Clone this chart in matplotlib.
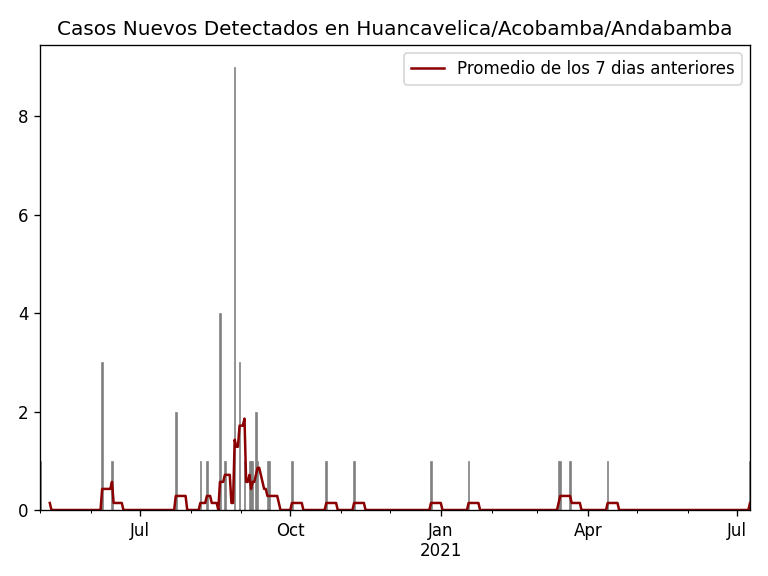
import pandas as pd
import matplotlib
matplotlib.use('Agg')
import matplotlib.pyplot as plt
import matplotlib.dates as mdates
from matplotlib.ticker import FuncFormatter

# Casos diarios (solo los dias con casos, el resto es 0)
fechas_casos = ['2020-05-01', '2020-06-08', '2020-06-14', '2020-07-23',
                '2020-08-07', '2020-08-11', '2020-08-19', '2020-08-22',
                '2020-08-28', '2020-08-31', '2020-09-03', '2020-09-06',
                '2020-09-07', '2020-09-08', '2020-09-10', '2020-09-11',
                '2020-09-17', '2020-09-18', '2020-10-02', '2020-10-23',
                '2020-11-09', '2020-12-26', '2021-01-18', '2021-03-14',
                '2021-03-15', '2021-03-21', '2021-04-13', '2021-07-09']
casos = [1, 3, 1, 2,
         1, 1, 4, 1,
         9, 3, 1, 1,
         1, 1, 2, 1,
         1, 1, 1, 1,
         1, 1, 1, 1,
         1, 1, 1, 1]

inicio = '2020-05-01'
fin = '2021-07-09'

dias = pd.date_range(inicio, fin, freq='D')
serie = pd.Series(0, index=dias)
serie.loc[pd.to_datetime(fechas_casos)] = casos
promedio = serie.rolling(7).mean()

fig, ax = plt.subplots(figsize=(6.4, 4.8), dpi=120)
ax.bar(serie.index, serie.values, width=1.0, color='gray',
       edgecolor='gray', linewidth=0.4)
ax.plot(promedio.index, promedio.values, color='darkred',
        label='Promedio de los 7 dias anteriores')
ax.set_xlim(dias[0], dias[-1])

ax.xaxis.set_major_locator(mdates.MonthLocator(bymonth=[1, 4, 7, 10]))
ax.xaxis.set_minor_locator(mdates.MonthLocator())


def fmt_fecha(x, pos):
    d = mdates.num2date(x)
    return d.strftime('%b\n%Y') if d.month == 1 else d.strftime('%b')


ax.xaxis.set_major_formatter(FuncFormatter(fmt_fecha))
ax.xaxis.set_minor_formatter(FuncFormatter(lambda x, pos: ''))

ax.set_title('Casos Nuevos Detectados en Huancavelica/Acobamba/Andabamba')
ax.legend(loc='upper right')
plt.subplots_adjust(left=40/768, right=750/768, top=1-45/576, bottom=1-510/576)
plt.savefig('out.png', dpi=120)
